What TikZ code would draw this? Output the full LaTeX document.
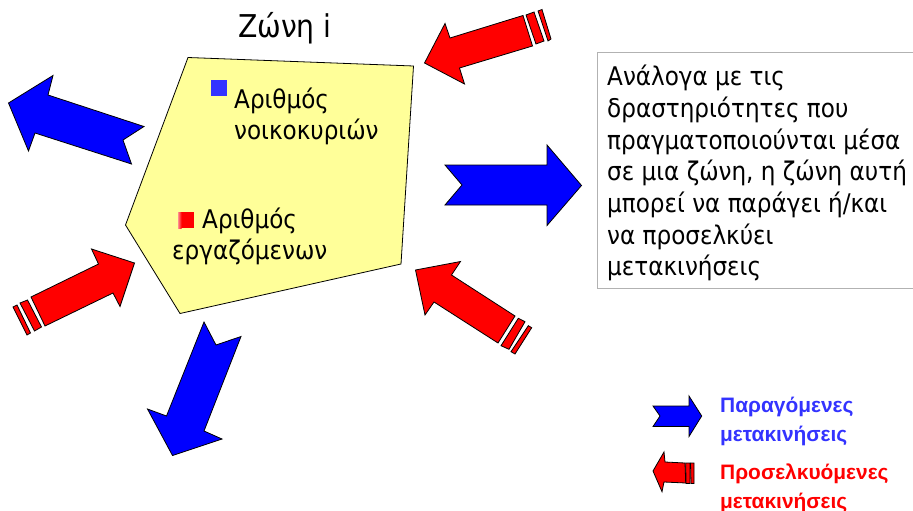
\documentclass[tikz,border=0pt]{standalone}
\usepackage{fontspec}
\setmainfont{DejaVu Sans Condensed}
\newfontfamily\legendfont{Liberation Sans}[BoldFont={Liberation Sans Bold}]
\definecolor{zone}{HTML}{FFFF99}
\definecolor{pblue}{HTML}{0000FF}
\definecolor{lblue}{HTML}{3333FF}
\definecolor{boxgray}{HTML}{B2B2B2}
\tikzset{
  outl/.style={draw=black,line width=0.8pt,line join=miter,fill=#1},
  body/.style={inner sep=0pt,anchor=north west,align=left,font=\fontsize{25.7}{31.7}\selectfont,text=black},
  legend/.style={inner sep=0pt,anchor=north west,align=left,font=\legendfont\bfseries\fontsize{20.9}{28.5}\selectfont},
  bullet/.style={inner sep=0pt,minimum size=16pt,fill=#1,draw=none}
}
\begin{document}
\begin{tikzpicture}[x=1pt,y=-1pt]
\useasboundingbox (0,0) rectangle (913,511);
\fill[white] (0,0) rectangle (913,511);
% zone
\draw[outl=zone] (188,57.5) -- (413.5,66) -- (401,264) -- (180,313.5) -- (125.5,225) -- cycle;
\node[body,anchor=center,font=\fontsize{31.4}{36}\selectfont] (title) at (285,28) {Ζώνη i};
\node[bullet=lblue] (b1) at (219,88) {};
\node[body] (t1) at (234,87.5) {Αριθμός\\νοικοκυριών};
\node[bullet=red] (b2) at (186,220) {};
\shade[left color=red!45,right color=red] (178,212) rectangle (181.5,228);
\node[body] (t2) at (202,208) {Αριθμός};
\node[body] (t3) at (172,239) {εργαζόμενων};
% blue arrows
\draw[outl=pblue] (8.5,103) -- (53,75.5) -- (48,95) -- (144,126.5) -- (123,140) -- (131.5,164) -- (35,133) -- (28.5,151) -- cycle;
\draw[outl=pblue] (445,165) -- (547,165) -- (547,145) -- (581.5,185.5) -- (547,225.5) -- (547,205) -- (445,205) -- (462,185) -- cycle;
\draw[outl=pblue] (172.5,455.5) -- (147.5,409) -- (166.5,416) -- (204,322) -- (216,345) -- (241,336.5) -- (204,431) -- (222,439) -- cycle;
% red top right
\draw[outl=red] (424.5,63) -- (445,23.5) -- (450,38) -- (523,15.5) -- (532.5,46) -- (459.5,68) -- (464.5,84) -- cycle;
\draw[outl=red] (526,15) -- (534,12) -- (544,41) -- (536,44) -- cycle;
\draw[outl=red] (538,11) -- (542,9.5) -- (551,39) -- (548,41) -- cycle;
% red lower left
\draw[outl=red] (134.5,263) -- (91.5,249) -- (98.5,264) -- (31,297) -- (45,326) -- (113,293) -- (120,306.5) -- cycle;
\draw[outl=red] (20,303) -- (27.5,300) -- (41.5,327) -- (34.5,331) -- cycle;
\draw[outl=red] (13,307) -- (17,305) -- (30.5,333) -- (27,335) -- cycle;
% red lower right
\draw[outl=red] (415.5,270) -- (460.5,261.5) -- (451.5,275) -- (515,316) -- (498,343) -- (434,302) -- (425,315) -- cycle;
\draw[outl=red] (518.3,318.3) -- (525,321.7) -- (509,349.3) -- (501,345.7) -- cycle;
\draw[outl=red] (528.3,325.7) -- (531.7,327.7) -- (515,354) -- (511,351.7) -- cycle;
% text box
\draw[draw=boxgray,line width=1pt,fill=white] (597.5,52.5) -- (920,52.5) -- (920,288) -- (597.5,288) -- cycle;
\node[body] (desc) at (607,65) {Ανάλογα με τις\\δραστηριότητες που\\πραγματοποιούνται μέσα\\σε μια ζώνη, η ζώνη αυτή\\μπορεί να παράγει ή/και\\να προσελκύει\\μετακινήσεις};
% legend
\draw[outl=pblue] (653,406) -- (689,406) -- (689,396) -- (701.7,416) -- (689,436.5) -- (689,426.5) -- (653,426.5) -- (660,416) -- cycle;
\draw[outl=red] (653,471) -- (664,452) -- (665,462) -- (685,463) -- (685.7,483) -- (664,482) -- (662,491.7) -- cycle;
\draw[outl=red] (685.7,463) -- (690,463) -- (690,483.5) -- (686,483.5) -- cycle;
\draw[outl=red] (690.5,463) -- (694,463) -- (694,483.5) -- (691,483.5) -- cycle;
\node[legend,text=lblue] (l1) at (720,397) {Παραγόμενες\\μετακινήσεις};
\node[legend,text=red] (l2) at (720,464) {Προσελκυόμενες\\μετακινήσεις};
\end{tikzpicture}
\end{document}
